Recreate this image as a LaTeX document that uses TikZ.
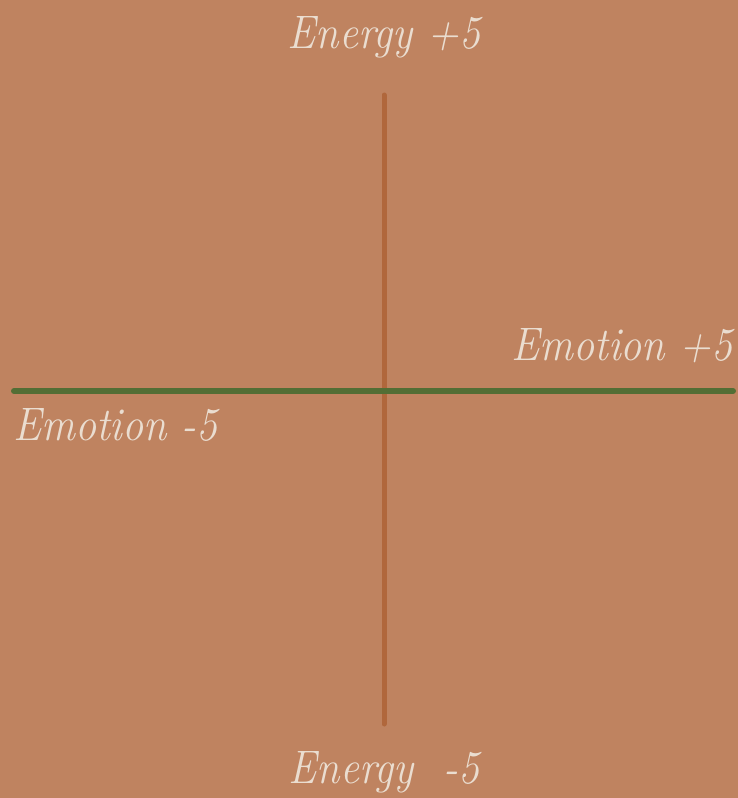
\documentclass[tikz,border=0pt]{standalone}
\usepackage{fontspec}
\definecolor{bgc}{HTML}{BF8360}
\definecolor{vline}{HTML}{B0673C}
\definecolor{hline}{HTML}{526E35}
\definecolor{txt}{HTML}{EADDD0}
\begin{document}
\begin{tikzpicture}[x=1pt,y=-1pt,
  lbl/.style={inner sep=0pt, text=txt, xscale=0.9, transform shape, font=\fontsize{47}{50}\selectfont\itshape},
  axis/.style={line cap=round, line width=#1}]
\fill[bgc] (0,0) rectangle (738,798);
\useasboundingbox (0,0) rectangle (738,798);
\coordinate (vt) at (384,95);
\coordinate (vb) at (384,724);
\coordinate (hl) at (14,391);
\coordinate (hr) at (733,391);
\draw[vline, axis=5pt] (vt) -- (vb);
\draw[hline, axis=6pt] (hl) -- (hr);
\node[lbl, anchor=base] (etop) at (384,48) {Energy +5};
\node[lbl, anchor=base] (ebot) at (384,783) {Energy\ \ -5};
\node[lbl, anchor=base east] (mr) at (733,360) {Emotion +5};
\node[lbl, anchor=base west] (ml) at (13,440) {Emotion -5};
\end{tikzpicture}
\end{document}
